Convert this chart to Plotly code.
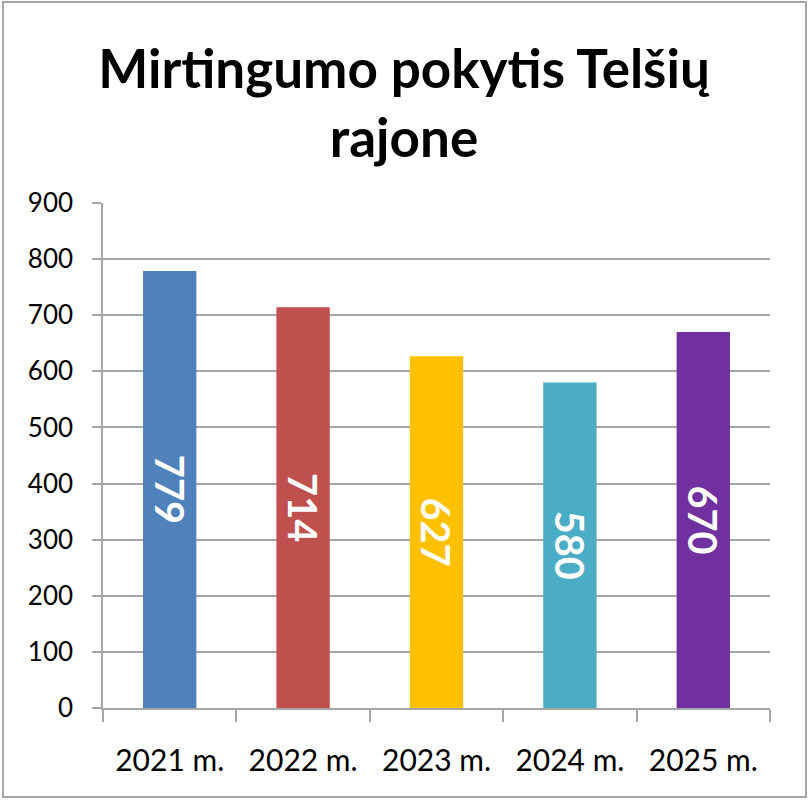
import plotly.graph_objects as go

years = ['2021 m.', '2022 m.', '2023 m.', '2024 m.', '2025 m.']
deaths = [779, 714, 627, 580, 670]
bar_colors = ['#4F81BD', '#C0504D', '#FFC000', '#4BACC6', '#7030A0']

font_name = 'Lato, Open Sans, sans-serif'
grey = '#A6A6A6'

fig = go.Figure(go.Bar(
    x=years,
    y=deaths,
    marker=dict(color=bar_colors, line=dict(width=0)),
    text=[str(v) for v in deaths],
    textposition='inside',
    insidetextanchor='middle',
    textangle=90,
    textfont=dict(family=font_name, size=42, color='white', weight='bold'),
    cliponaxis=False,
))

fig.update_layout(
    width=808,
    height=800,
    margin=dict(l=103, r=38, t=203, b=92),
    paper_bgcolor='white',
    plot_bgcolor='white',
    font=dict(family=font_name, color='black'),
    title=dict(
        text='<b>Mirtingumo pokytis Telšių<br>rajone</b>',
        x=0.5, xanchor='center',
        yref='container', y=0.89, yanchor='middle',
        font=dict(family=font_name, size=53, color='black'),
    ),
    bargap=0.6,
    showlegend=False,
    shapes=[dict(
        type='rect', xref='paper', yref='paper',
        x0=-0.15, x1=1.054, y0=-0.176, y1=1.398,
        line=dict(color=grey, width=2),
    )],
)

fig.update_yaxes(
    range=[0, 900],
    dtick=100,
    showgrid=True,
    gridcolor=grey,
    gridwidth=1.5,
    showline=True,
    linecolor=grey,
    linewidth=1.5,
    ticks='outside',
    ticklen=9,
    tickcolor=grey,
    tickwidth=1.5,
    ticklabelstandoff=14,
    tickfont=dict(size=26, color='black'),
    zeroline=False,
)

fig.update_xaxes(
    showline=True,
    linecolor=grey,
    linewidth=1.5,
    ticks='outside',
    tickson='boundaries',
    ticklen=12,
    tickcolor=grey,
    tickwidth=1.5,
    ticklabelstandoff=25,
    tickfont=dict(size=30, color='black'),
    showgrid=False,
)

# drop the default page margin so the figure sits at the window corner
fig.write_html('out.html', config={'displayModeBar': False},
               post_script="document.body.style.margin='0';")
